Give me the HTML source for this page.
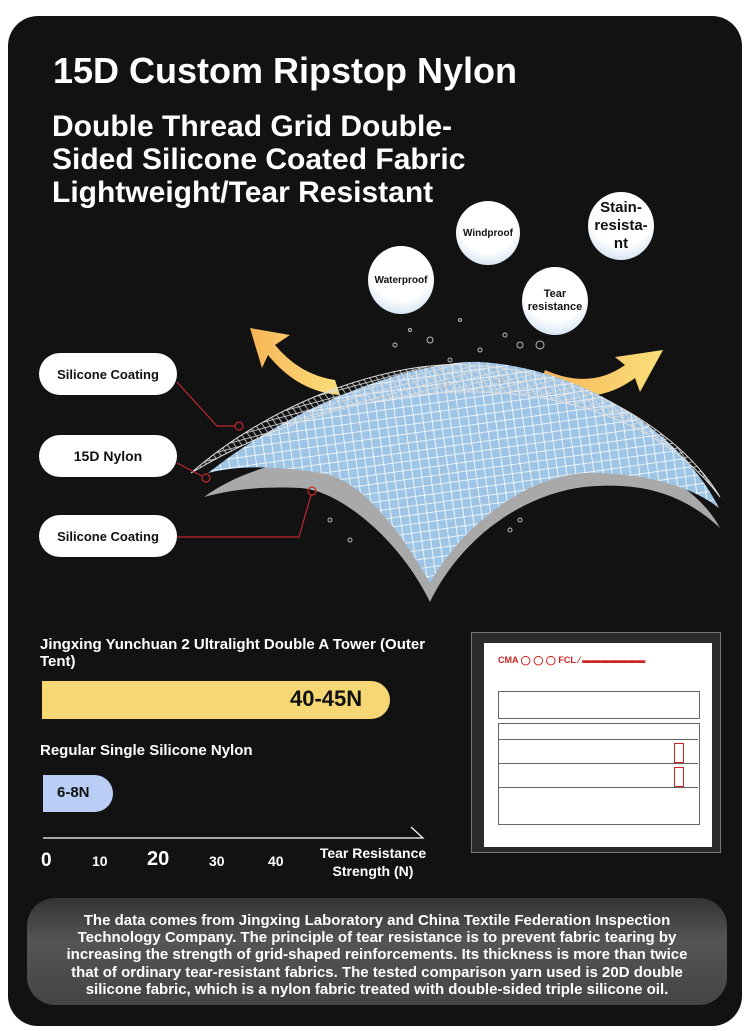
<!DOCTYPE html>
<html><head><meta charset="utf-8"><style>
body{margin:0;width:750px;height:1031px;background:#fff;position:relative;overflow:hidden;font-family:"Liberation Sans",sans-serif}
#panel{position:absolute;left:8px;top:16px;width:734px;height:1010px;background:#121212;border-radius:30px}
.t{position:absolute;color:#fff;font-weight:bold;white-space:nowrap}
.pill{position:absolute;left:39px;width:138px;height:42px;background:#fff;border-radius:21px;color:#111;font-weight:bold;font-size:13px;display:flex;align-items:center;justify-content:center}
.bub{position:absolute;border-radius:50%;background:radial-gradient(circle at 50% 35%,#fff 55%,#cfe0f2 85%,#9fc0e0 100%);color:#111;font-weight:bold;display:flex;align-items:center;justify-content:center;text-align:center}
</style></head><body>
<div id="panel"></div>
<div class="t" style="left:53px;top:50px;font-size:36px">15D Custom Ripstop Nylon</div>
<div class="t" style="left:52px;top:110px;font-size:30px;line-height:33px">Double Thread Grid Double-<br>Sided Silicone Coated Fabric<br>Lightweight/Tear Resistant</div>

<svg style="position:absolute;left:0;top:0" width="750" height="1031">
<defs>
<pattern id="g" width="9" height="9" patternUnits="userSpaceOnUse" patternTransform="rotate(-8)"><rect width="9" height="9" fill="#9ec4e6"/><path d="M0 0H9M0 0V9" stroke="#fff" stroke-width="1.6"/></pattern>
<pattern id="m" width="10" height="7" patternUnits="userSpaceOnUse" patternTransform="rotate(20)"><path d="M0 0L10 7M10 0L0 7" stroke="#ddd" stroke-width="0.8"/></pattern>
<linearGradient id="ar" x1="0" x2="1"><stop offset="0" stop-color="#f6b457"/><stop offset="1" stop-color="#fbe07a"/></linearGradient>
</defs>
<path d="M335,380 Q300,375 275,345 L290,335 L250,328 L262,368 L268,355 Q298,392 340,395Z" fill="url(#ar)"/>
<path d="M545,370 Q590,390 625,365 L615,357 L663,350 L640,392 L635,378 Q592,410 540,385Z" fill="url(#ar)"/>
<path d="M204,497 C240,470 300,455 340,455 C420,420 520,420 580,440 C650,460 700,490 720,528 C690,500 650,480 584,487 C520,495 460,540 430,602 C400,540 340,490 300,488 C260,486 230,490 204,497Z" fill="#a9a9a9"/>
<path d="M208,473 C300,400 420,360 480,362 C580,368 680,430 719,508 C690,485 640,472 584,473 C520,478 460,530 430,583 C400,530 360,478 320,473 C280,466 240,465 208,473Z" fill="url(#g)"/>
<path d="M191,473 C280,395 400,360 470,365 C580,370 680,430 720,497 C670,430 580,395 480,392 C380,390 280,420 191,473Z" fill="url(#m)" stroke="#ddd" stroke-width="1"/>
<g fill="none" stroke="#bbb" stroke-width="1">
<circle cx="430" cy="340" r="3"/><circle cx="450" cy="360" r="2"/><circle cx="480" cy="350" r="2"/><circle cx="505" cy="335" r="2"/><circle cx="520" cy="345" r="3"/><circle cx="540" cy="345" r="4"/><circle cx="395" cy="345" r="2"/><circle cx="410" cy="330" r="1.5"/><circle cx="460" cy="320" r="1.5"/><circle cx="500" cy="380" r="3"/><circle cx="445" cy="385" r="3"/><circle cx="330" cy="520" r="2"/><circle cx="520" cy="520" r="2"/><circle cx="350" cy="540" r="2"/><circle cx="510" cy="530" r="2"/>
</g>
<g stroke="#c0272d" stroke-width="1.2" fill="none">
<path d="M177,382 L217,426 L235,426"/><circle cx="239" cy="426" r="4"/>
<path d="M177,463 L202,476"/><circle cx="206" cy="478" r="4"/>
<path d="M177,537 L299,537 L311,495"/><circle cx="312" cy="491" r="4"/>
</g>
<path d="M43,838 H423 L411,827" stroke="#fff" stroke-width="1.2" fill="none"/>
</svg>

<div class="pill" style="top:353px">Silicone Coating</div>
<div class="pill" style="top:435px;font-size:14px">15D Nylon</div>
<div class="pill" style="top:515px">Silicone Coating</div>

<div class="bub" style="left:456px;top:201px;width:64px;height:64px;font-size:10px">Windproof</div>
<div class="bub" style="left:588px;top:192px;width:66px;height:68px;font-size:15px;line-height:18px">Stain-<br>resista-<br>nt</div>
<div class="bub" style="left:368px;top:246px;width:66px;height:68px;font-size:10px">Waterproof</div>
<div class="bub" style="left:522px;top:267px;width:66px;height:68px;font-size:11px;line-height:13px">Tear<br>resistance</div>

<div class="t" style="left:40px;top:636px;font-size:15px;line-height:17px">Jingxing Yunchuan 2 Ultralight Double A Tower (Outer<br>Tent)</div>
<div style="position:absolute;left:42px;top:681px;width:348px;height:38px;background:#f5d873;border-radius:0 19px 19px 0"></div>
<div class="t" style="left:290px;top:686px;font-size:22px;color:#111">40-45N</div>
<div class="t" style="left:40px;top:742px;font-size:15px">Regular Single Silicone Nylon</div>
<div style="position:absolute;left:43px;top:775px;width:70px;height:37px;background:#b9cdf5;border-radius:0 19px 19px 0"></div>
<div class="t" style="left:57px;top:784px;font-size:15px;color:#111">6-8N</div>
<div class="t" style="left:41px;top:850px;font-size:19px">0</div>
<div class="t" style="left:92px;top:853px;font-size:14px">10</div>
<div class="t" style="left:147px;top:848px;font-size:20px">20</div>
<div class="t" style="left:209px;top:853px;font-size:14px">30</div>
<div class="t" style="left:268px;top:853px;font-size:14px">40</div>
<div class="t" style="left:305px;top:844px;width:136px;text-align:center;font-size:14px;line-height:18px">Tear Resistance<br>Strength (N)</div>

<div style="position:absolute;left:471px;top:632px;width:250px;height:221px;background:#2a2a2a;border:1px solid #777;box-sizing:border-box"></div>
<div style="position:absolute;left:484px;top:643px;width:228px;height:204px;background:#fff">
 <div style="position:absolute;left:14px;top:12px;width:200px;height:22px;color:#c22;font-size:9px;font-weight:bold">CMA ◯ ◯ ◯ FCL ⁄ ▬▬▬▬▬▬▬</div>
 <div style="position:absolute;left:14px;top:48px;width:200px;height:26px;border:1px solid #666"></div>
 <div style="position:absolute;left:14px;top:80px;width:200px;height:100px;border:1px solid #666"></div>
 <div style="position:absolute;left:14px;top:96px;width:200px;height:1px;background:#666"></div>
 <div style="position:absolute;left:14px;top:120px;width:200px;height:1px;background:#666"></div>
 <div style="position:absolute;left:14px;top:144px;width:200px;height:1px;background:#666"></div>
 <div style="position:absolute;left:190px;top:100px;width:8px;height:18px;border:1.5px solid #c22"></div>
 <div style="position:absolute;left:190px;top:124px;width:8px;height:18px;border:1.5px solid #c22"></div>
</div>

<div style="position:absolute;left:27px;top:898px;width:700px;height:107px;border-radius:28px;background:linear-gradient(#333,#555 40%,#444)"></div>
<div class="t" style="left:27px;top:912px;width:700px;text-align:center;font-size:15px;line-height:17.2px;white-space:normal">The data comes from Jingxing Laboratory and China Textile Federation Inspection<br>Technology Company. The principle of tear resistance is to prevent fabric tearing by<br>increasing the strength of grid-shaped reinforcements. Its thickness is more than twice<br>that of ordinary tear-resistant fabrics. The tested comparison yarn used is 20D double<br>silicone fabric, which is a nylon fabric treated with double-sided triple silicone oil.</div>
</body></html>
